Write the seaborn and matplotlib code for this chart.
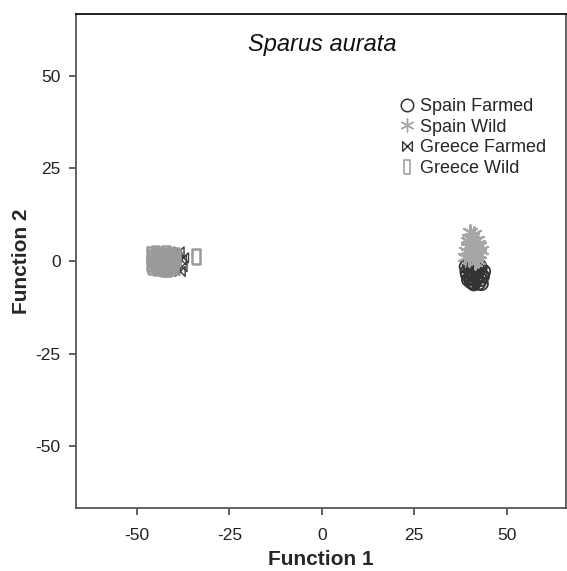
import matplotlib
matplotlib.use("Agg")
import matplotlib.pyplot as plt
import seaborn as sns
from matplotlib.lines import Line2D

# discriminant scores
spain_farmed_x = [39.0, 40.0, 41.0, 42.3, 43.4, 40.6, 41.6, 42.8, 39.4, 40.3, 41.3, 43.0, 43.8,
                  39.8, 41.9, 42.4, 39.2, 41.1, 40.7, 42.9, 41.5, 40.2, 43.5, 42.0, 40.9,
                  41.2, 42.6, 40.4, 39.6, 43.2]
spain_farmed_y = [-1.5, -2.2, -3.0, -2.5, -4.0, -4.8, -5.2, -3.6, -3.8, -5.6, -1.0, -5.0, -2.8,
                  -0.8, -4.4, -6.0, -2.9, -6.2, -3.3, -1.7, -2.0, -4.5, -4.1, -3.1, -5.8,
                  -4.0, -1.2, -3.0, -5.0, -6.1]

spain_wild_x = [38.8, 40.2, 41.7, 42.6, 40.8, 39.4, 42.1, 40.5, 41.2, 43.0,
                39.0, 39.9, 41.9, 40.9, 42.3, 39.6, 41.0, 40.3, 41.5, 40.6,
                41.8, 39.7, 42.4, 40.1]
spain_wild_y = [1.0, 2.5, 3.2, 1.8, 5.0, 4.2, 4.6, 6.5, 7.2, 3.0,
                2.8, 0.5, 5.8, 1.5, 0.2, 5.5, 3.8, 3.5, -0.2, 2.0,
                1.0, 6.3, 4.0, 7.8]

greece_farmed_x = [-40.5, -39.2, -38.0, -37.8, -39.8, -40.8, -38.6, -37.4, -39.5, -41.2, -38.3, -40.0]
greece_farmed_y = [2.0, 1.2, 0.3, -1.5, -2.4, -0.8, 2.5, 0.9, -1.0, 1.5, -2.8, 0.0]

greece_wild_x = [-46.3, -45.0, -43.6, -42.2, -40.8, -45.7, -44.3, -42.9, -41.5, -40.2,
                 -46.0, -44.6, -43.2, -41.8, -45.3, -43.9, -42.5, -41.1, -44.9, -43.4,
                 -42.0, -40.6, -45.9, -44.0, -42.7, -41.3, -46.2, -43.0, -41.0, -44.8,
                 -39.6, -39.9, -40.0, -39.5, -34.0]
greece_wild_y = [1.8, 2.1, 1.5, 2.0, 1.6, 0.4, -0.2, 0.6, 0.0, -0.5,
                 -1.4, -1.8, -1.2, -2.0, -0.8, 0.9, -1.0, 0.8, 1.2, -0.4,
                 1.1, 0.2, 0.9, 1.4, -1.9, 1.3, -0.6, 0.0, -1.6, -1.1,
                 1.5, -0.2, -1.5, 0.6, 1.2]

ticks = [-50, -25, 0, 25, 50]

sns.set_theme(style="white")
plt.rcParams['font.family'] = ['Liberation Sans', 'DejaVu Sans']
plt.rcParams['axes.unicode_minus'] = False

# custom marker shapes
bowtie = [(-1, -1), (1, 1), (1, -1), (-1, 1), (-1, -1)]
tall_rect = [(-0.5, -1), (0.5, -1), (0.5, 1), (-0.5, 1), (-0.5, -1)]
asterisk = (6, 2, 0)

fig = plt.figure(figsize=(5.67, 5.71), dpi=100)
ax = fig.add_axes([0.134, 0.110, 0.864, 0.8655])

# Greece: farmed underneath, wild on top
sns.scatterplot(x=greece_farmed_x, y=greece_farmed_y, marker=bowtie, s=50,
                facecolor='none', edgecolor='#3a3a3a', linewidth=1.0, ax=ax, legend=False)
sns.scatterplot(x=greece_wild_x, y=greece_wild_y, marker=tall_rect, s=120,
                facecolor='none', edgecolor='#9a9a9a', linewidth=1.8, ax=ax, legend=False)
# Spain: farmed underneath, wild on top
sns.scatterplot(x=spain_farmed_x, y=spain_farmed_y, marker='o', s=85,
                facecolor='none', edgecolor='#333333', linewidth=1.3, ax=ax, legend=False)
sns.scatterplot(x=spain_wild_x, y=spain_wild_y, marker=asterisk, s=110,
                color='#a6a6a6', linewidth=1.5, ax=ax, legend=False)

ax.set_xlim(-66.5, 66)
ax.set_ylim(-66.7, 66.7)
ax.set_xticks(ticks)
ax.set_yticks(ticks)
ax.tick_params(axis='both', direction='out', length=5, width=1.2, color='#444444',
               labelsize=12.5, labelcolor='#222222', pad=6, bottom=True, left=True)
ax.tick_params(axis='x', pad=9)
for side, sp in ax.spines.items():
    sp.set_color('#555555')
    sp.set_linewidth(1.3)
ax.spines['top'].set_color('#111111')

ax.set_xlabel('Function 1', fontsize=15, fontweight='bold', labelpad=5)
ax.set_ylabel('Function 2', fontsize=15, fontweight='bold', labelpad=3)

ax.text(0, 58.5, 'Sparus aurata', fontsize=17, style='italic', ha='center', va='center',
        color='#111111')

handles = [
    Line2D([], [], ls='none', marker='o', ms=9, mfc='none', mec='#333333', mew=1.1),
    Line2D([], [], ls='none', marker=asterisk, ms=10, color='#a6a6a6', mew=1.0),
    Line2D([], [], ls='none', marker=bowtie, ms=7, mfc='none', mec='#333333', mew=1.0),
    Line2D([], [], ls='none', marker=tall_rect, ms=10, mfc='none', mec='#999999', mew=1.1),
]
labels = ['Spain Farmed', 'Spain Wild', 'Greece Farmed', 'Greece Wild']
ax.legend(handles, labels, loc='upper left', bbox_to_anchor=(0.66, 0.83), frameon=False,
          fontsize=13, handlelength=0.8, handletextpad=0.35, labelspacing=0.2, borderpad=0,
          borderaxespad=0)

fig.savefig('out.png', dpi=100)
